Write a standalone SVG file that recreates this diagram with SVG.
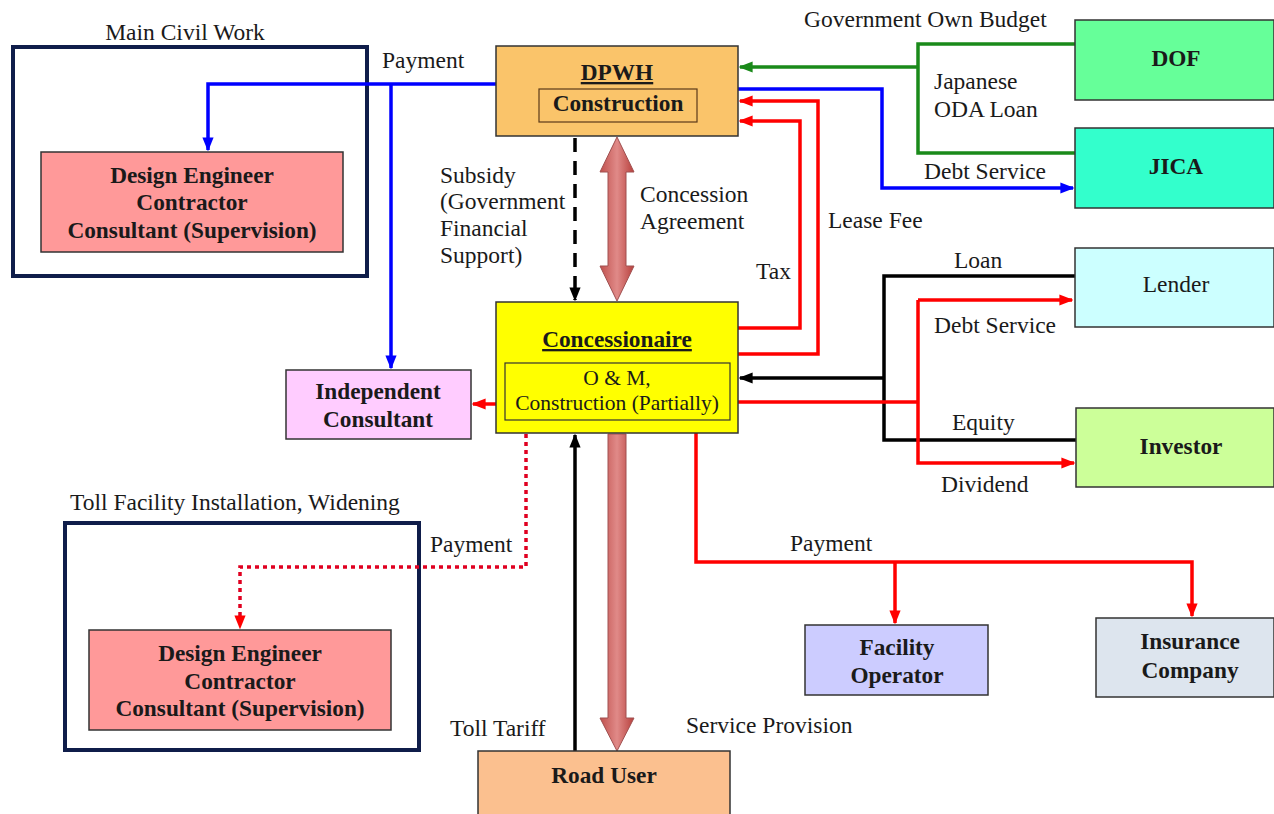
<svg xmlns="http://www.w3.org/2000/svg" width="1274" height="814" viewBox="0 0 1274 814" font-family="'Liberation Serif', 'DejaVu Serif', 'Times New Roman', serif">
<style>
text{font-family:'Liberation Serif','DejaVu Serif','Times New Roman',serif;fill:#1a1a1a}
.lbl{font-size:23.5px}
.b{font-size:23.3px;font-weight:bold;text-anchor:middle}
.c{text-anchor:middle}
.box{stroke:#333;stroke-width:1.5}
.frame{fill:none;stroke:#0f1d4a;stroke-width:4}
.ln{fill:none;stroke-width:3.5}
</style>
<defs>
<marker id="aB" viewBox="0 0 10 10" refX="9" refY="5" markerWidth="4" markerHeight="4" orient="auto" markerUnits="strokeWidth"><path d="M0,1 L10,5 L0,9 z" fill="#0000ff"/></marker>
<marker id="aR" viewBox="0 0 10 10" refX="9" refY="5" markerWidth="4" markerHeight="4" orient="auto" markerUnits="strokeWidth"><path d="M0,1 L10,5 L0,9 z" fill="#ff0000"/></marker>
<marker id="aG" viewBox="0 0 10 10" refX="9" refY="5" markerWidth="4" markerHeight="4" orient="auto" markerUnits="strokeWidth"><path d="M0,1 L10,5 L0,9 z" fill="#1a8a1a"/></marker>
<marker id="aK" viewBox="0 0 10 10" refX="9" refY="5" markerWidth="4" markerHeight="4" orient="auto" markerUnits="strokeWidth"><path d="M0,1 L10,5 L0,9 z" fill="#000"/></marker>
<linearGradient id="gArrow" x1="0" y1="0" x2="1" y2="0">
<stop offset="0" stop-color="#c0504d"/><stop offset="0.5" stop-color="#e08a88"/><stop offset="1" stop-color="#b8403d"/>
</linearGradient>
</defs>

<g id="frame-main">
<rect class="frame" x="13" y="47" width="354" height="229"/>
<text class="lbl c" x="185" y="40">Main Civil Work</text>
</g>
<g id="frame-toll">
<rect class="frame" x="65" y="523" width="354" height="227"/>
<text class="lbl" x="70" y="510">Toll Facility Installation, Widening</text>
</g>

<g id="connectors">
<path class="ln" stroke="#0000ff" d="M496,84 H208 V150" marker-end="url(#aB)"/>
<path class="ln" stroke="#0000ff" d="M391,84 V368" marker-end="url(#aB)"/>
<path class="ln" stroke="#0000ff" d="M738,89 H882 V188 H1073" marker-end="url(#aB)"/>
<path class="ln" stroke="#1a8a1a" d="M1075,44 H918 V153 H1075"/>
<path class="ln" stroke="#1a8a1a" d="M918,67 H740" marker-end="url(#aG)"/>
<path class="ln" stroke="#ff0000" d="M738,328 H800 V121 H740" marker-end="url(#aR)"/>
<path class="ln" stroke="#ff0000" d="M738,354 H818 V101 H740" marker-end="url(#aR)"/>
<path class="ln" stroke="#000" d="M1075,276 H884 V440 H1076"/>
<path class="ln" stroke="#000" d="M884,378 H740" marker-end="url(#aK)"/>
<path class="ln" stroke="#ff0000" d="M738,402 H918"/>
<path class="ln" stroke="#ff0000" d="M918,300 V463 H1074" marker-end="url(#aR)"/>
<path class="ln" stroke="#ff0000" d="M918,300 H1072" marker-end="url(#aR)"/>
<path class="ln" stroke="#ff0000" d="M496,404 H473" marker-end="url(#aR)"/>
<path class="ln" stroke="#e00020" stroke-dasharray="4,4" d="M526,434 V567 H240 V628" marker-end="url(#aR)"/>
<path class="ln" stroke="#000" d="M575,751 V435" marker-end="url(#aK)"/>
<path class="ln" stroke="#000" stroke-width="4" stroke-dasharray="14,9" d="M575,138 V300" marker-end="url(#aK)"/>
<path class="ln" stroke="#ff0000" d="M696,433 V562 H1192 V616" marker-end="url(#aR)"/>
<path class="ln" stroke="#ff0000" d="M895,562 V623" marker-end="url(#aR)"/>
<path fill="url(#gArrow)" stroke="#a05050" stroke-width="1" d="M617,137 L634,172 L626,172 L626,266 L634,266 L617,301 L600,266 L608,266 L608,172 L600,172 Z"/>
<path fill="url(#gArrow)" stroke="#a05050" stroke-width="1" d="M608,434 L626,434 L626,718 L634,718 L617,751 L600,718 L608,718 Z"/>
</g>

<g id="labels">
<text class="lbl" x="382" y="68">Payment</text>
<text class="lbl" x="804" y="27">Government Own Budget</text>
<text class="lbl" x="934" y="89">Japanese</text>
<text class="lbl" x="934" y="117">ODA Loan</text>
<text class="lbl" x="924" y="179">Debt Service</text>
<text class="lbl" x="440" y="183">Subsidy</text>
<text class="lbl" x="440" y="209">(Government</text>
<text class="lbl" x="440" y="236">Financial</text>
<text class="lbl" x="440" y="263">Support)</text>
<text class="lbl" x="640" y="202">Concession</text>
<text class="lbl" x="640" y="229">Agreement</text>
<text class="lbl" x="828" y="228">Lease Fee</text>
<text class="lbl" x="756" y="279">Tax</text>
<text class="lbl" x="954" y="268">Loan</text>
<text class="lbl" x="934" y="333">Debt Service</text>
<text class="lbl" x="952" y="430">Equity</text>
<text class="lbl" x="941" y="492">Dividend</text>
<text class="lbl" x="430" y="552">Payment</text>
<text class="lbl" x="790" y="551">Payment</text>
<text class="lbl" x="450" y="736">Toll Tariff</text>
<text class="lbl" x="686" y="733">Service Provision</text>
</g>

<g id="dpwh">
<rect class="box" x="496" y="46" width="242" height="90" fill="#fac46a"/>
<text class="b" x="617" y="80" font-size="26" text-decoration="underline">DPWH</text>
<rect x="539" y="89" width="158" height="33" fill="none" stroke="#5a3a1a" stroke-width="1.2"/>
<text class="b" x="618" y="111" font-size="20.5">Construction</text>
</g>
<g id="dof">
<rect class="box" x="1075" y="20" width="199" height="80" fill="#66ff99"/>
<text class="b" x="1176" y="66" font-size="24">DOF</text>
</g>
<g id="jica">
<rect class="box" x="1075" y="128" width="199" height="80" fill="#33ffcc"/>
<text class="b" x="1176" y="174" font-size="24">JICA</text>
</g>
<g id="lender">
<rect class="box" x="1075" y="248" width="199" height="79" fill="#ccffff"/>
<text class="lbl c" x="1176" y="292">Lender</text>
</g>
<g id="investor">
<rect class="box" x="1076" y="408" width="198" height="79" fill="#ccff99"/>
<text class="b" x="1181" y="454">Investor</text>
</g>
<g id="concessionaire">
<rect class="box" x="496" y="302" width="242" height="131" fill="#ffff00"/>
<text class="b" x="617" y="347" font-size="24.5" text-decoration="underline">Concessionaire</text>
<rect x="505" y="363" width="225" height="57" fill="none" stroke="#333" stroke-width="1.2"/>
<text class="c" x="617" y="385" font-size="21.5">O &amp; M,</text>
<text class="c" x="617" y="410" font-size="21.5">Construction (Partially)</text>
</g>
<g id="independent-consultant">
<rect class="box" x="286" y="370" width="185" height="69" fill="#ffccff"/>
<text class="b" x="378" y="399">Independent</text>
<text class="b" x="378" y="427">Consultant</text>
</g>
<g id="dec-main">
<rect class="box" x="41" y="152" width="302" height="100" fill="#ff9999"/>
<text class="b" x="192" y="183">Design Engineer</text>
<text class="b" x="192" y="210">Contractor</text>
<text class="b" x="192" y="238">Consultant (Supervision)</text>
</g>
<g id="dec-toll">
<rect class="box" x="89" y="630" width="302" height="100" fill="#ff9999"/>
<text class="b" x="240" y="661">Design Engineer</text>
<text class="b" x="240" y="689">Contractor</text>
<text class="b" x="240" y="716">Consultant (Supervision)</text>
</g>
<g id="road-user">
<rect class="box" x="478" y="751" width="252" height="70" fill="#fbc08f"/>
<text class="b" x="604" y="783">Road User</text>
</g>
<g id="facility-operator">
<rect class="box" x="805" y="625" width="183" height="70" fill="#ccccff"/>
<text class="b" x="897" y="655">Facility</text>
<text class="b" x="897" y="683">Operator</text>
</g>
<g id="insurance">
<rect class="box" x="1096" y="618" width="178" height="79" fill="#dde5ee"/>
<text class="b" x="1190" y="649">Insurance</text>
<text class="b" x="1190" y="678">Company</text>
</g>
</svg>
